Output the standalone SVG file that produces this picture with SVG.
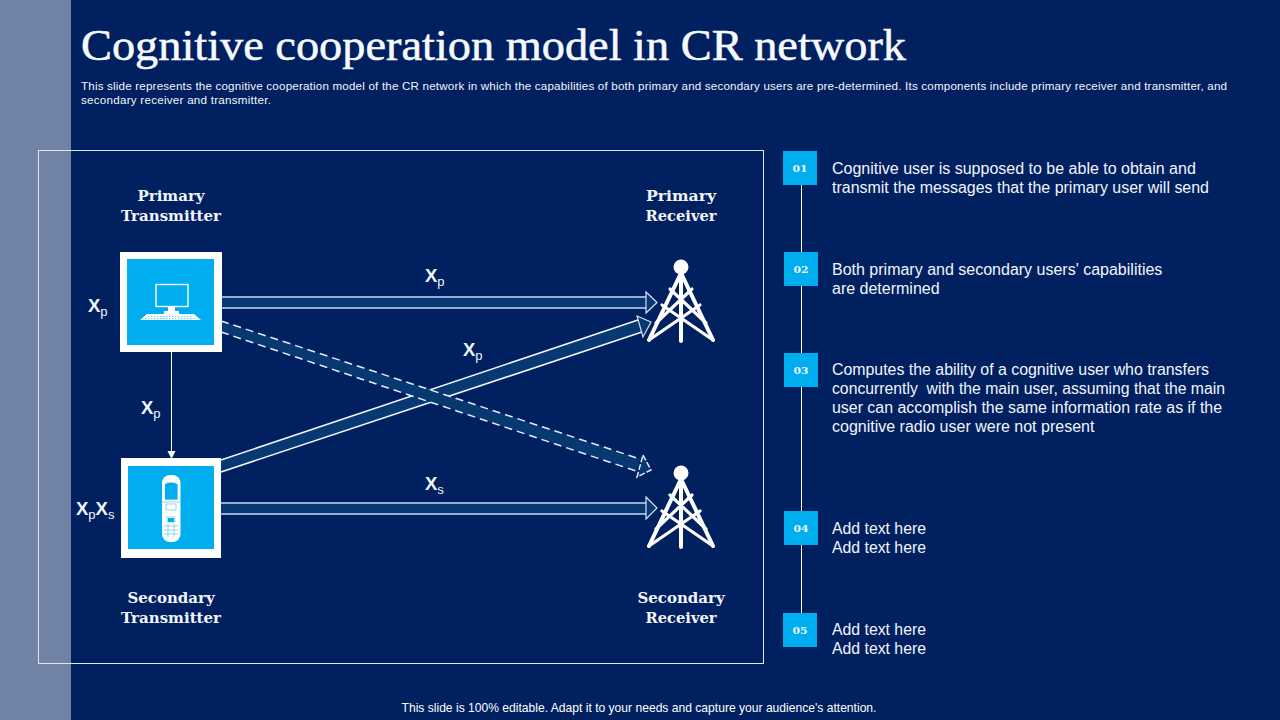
<svg xmlns="http://www.w3.org/2000/svg" width="1280" height="720" viewBox="0 0 1280 720">
<style>
.s{font-family:"Liberation Sans",Arial,sans-serif;fill:#fff}
.b{font-size:16px;fill:#f2f5fb}
.d{font-size:11.6px;fill:#f2f5fb}
.g{font-family:"DejaVu Serif","Liberation Serif",serif;font-weight:700;font-size:15px;fill:#f2f5fb;text-anchor:middle}
.n{font-family:"DejaVu Serif","Liberation Serif",serif;font-weight:700;font-size:9.5px;text-anchor:middle;fill:#f4f9ff}
.x{font-size:18.5px;font-weight:700;fill:#f2f5fb}
.x tspan{font-size:13px;font-weight:400}
.x tspan.big{font-size:18.5px;font-weight:700}
.c{fill:#00aeef}
.w{fill:#fff}
.t path{fill:none;stroke:#fff;stroke-linecap:round;stroke-linejoin:round}
.af{fill:#083872;stroke:none}
.al{fill:none;stroke:#93acd9;stroke-width:2}
.ah{fill:#083872;stroke:#d5e0f3;stroke-width:1.2}
.dl{fill:none;stroke:#e3ecf8;stroke-width:1.5;stroke-dasharray:8 5}
.dh{fill:#083872;stroke:#e3ecf8;stroke-width:1.5;stroke-dasharray:6 2}
</style>
<defs>
<g id="tower" class="t">
<circle cx="0" cy="0" r="7.5" fill="#fff"/>
<path d="M0 6L-32 73M0 6L32 73M0 6V74" stroke-width="4"/>
<path d="M-32 73L19 38M32 73L-19 38M-25 56L11 22M25 56L-11 22" stroke-width="3.200"/>
</g>
<marker id="tip" markerWidth="9" markerHeight="9" refX="7" refY="4" orient="auto" markerUnits="userSpaceOnUse"><path d="M0 0L8 4L0 8z" fill="#fff"/></marker>
</defs>
<rect width="1280" height="720" fill="#002060"/>
<rect width="71" height="720" fill="#7083a6"/>
<text x="81" y="60" textLength="825" lengthAdjust="spacingAndGlyphs" font-family="'Liberation Serif',serif" font-size="44" fill="#f6f9fd" stroke="#f6f9fd" stroke-width=".55">Cognitive cooperation model in CR network</text>
<text class="s d" x="81" y="90" textLength="1146" lengthAdjust="spacing">This slide represents the cognitive cooperation model of the CR network in which the capabilities of both primary and secondary users are pre-determined. Its components include primary receiver and transmitter, and</text>
<text class="s d" x="81" y="104" textLength="190" lengthAdjust="spacing">secondary receiver and transmitter.</text>
<rect x="38.500" y="150.500" width="725" height="513" fill="none" stroke="#dfe6f2" stroke-width="1"/>
<g id="connectors">
<path class="af" d="M221 297H646V308H221z"/><path class="al" d="M221 297H646M221 308H646"/><path class="ah" d="M646 292L657 302.500L646 313z"/>
<path class="af" d="M221 503H646V514H221z"/><path class="al" d="M221 503H646M221 514H646"/><path class="ah" d="M646 497L657 508L646 519z"/>
<path class="af" d="M221 460L638 320L642 332L221 472z"/><path d="M221 460L638 320M221 472L642 332" fill="none" stroke="#f2f6fc" stroke-width="1.600"/><path class="ah" d="M637 316L651 322L643 337z"/>
<path class="af" d="M221 321L640 459L636 471L221 332z"/><path class="dl" d="M221 321L640 459M221 332L636 471"/><path class="dh" d="M643 455L651 470L637 477z"/>
<path d="M171.500 352V458" stroke="#fff" stroke-width="1" marker-end="url(#tip)"/>
<path d="M801.500 185V613" stroke="#fff" stroke-width="1"/>
</g>
<g id="primary-transmitter">
<rect class="w" x="120" y="252" width="102" height="100"/><rect class="c" x="127" y="259" width="87" height="86"/>
<rect x="156" y="284.500" width="32" height="22" fill="none" stroke="#fff" stroke-width="1.400"/>
<path class="w" d="M168 307H175V311H179V314H164V311H168zM147 314H194L201 320H140z"/>
<path d="M148 316.500H193M145 318.500H196" stroke="#00aeef" stroke-width=".6" stroke-dasharray="1.500 1.500"/>
<text class="g" x="171" y="201">Primary</text><text class="g" x="171" y="221">Transmitter</text>
<text class="s x" x="88" y="312">X<tspan dy="4">p</tspan></text>
</g>
<g id="secondary-transmitter">
<rect class="w" x="121" y="458" width="100" height="100"/><rect class="c" x="128" y="466" width="86" height="83"/>
<rect class="w" x="162" y="475" width="18.500" height="67" rx="8"/>
<path d="M164.500 484Q171 480 178 484V500H164.500z" fill="#00aeef" stroke="#fff" stroke-width=".8"/>
<path d="M162 502H180M166 504H176V510H166zM167 517H175V522H167zM164 526H178M164 530H178M164 534H178M168 524V537M174 524V537" fill="none" stroke="#6fcdf2" stroke-width=".8"/>
<rect class="c" x="168" y="518" width="6" height="4"/>
<text class="g" x="171" y="603">Secondary</text><text class="g" x="171" y="623">Transmitter</text>
<text class="s x" x="76" y="515">X<tspan dy="4">p</tspan><tspan class="big" dy="-4">X</tspan><tspan dy="4">s</tspan></text>
</g>
<g id="primary-receiver"><use href="#tower" x="681" y="267"/><text class="g" x="681" y="201" textLength="70" lengthAdjust="spacingAndGlyphs">Primary</text><text class="g" x="681" y="221" textLength="71" lengthAdjust="spacingAndGlyphs">Receiver</text></g>
<g id="secondary-receiver"><use href="#tower" x="681" y="473"/><text class="g" x="681" y="603">Secondary</text><text class="g" x="681" y="623" textLength="71" lengthAdjust="spacingAndGlyphs">Receiver</text></g>
<g id="edge-labels">
<text class="s x" x="425" y="282">X<tspan dy="4">p</tspan></text>
<text class="s x" x="463" y="356">X<tspan dy="4">p</tspan></text>
<text class="s x" x="141" y="414">X<tspan dy="4">p</tspan></text>
<text class="s x" x="425" y="490">X<tspan dy="4">s</tspan></text>
</g>
<g id="step-1"><rect class="c" x="783" y="151" width="34" height="34"/><text class="n" x="800" y="172" textLength="15" lengthAdjust="spacingAndGlyphs">01</text><text class="s b" x="832" y="174">Cognitive user is supposed to be able to obtain and</text><text class="s b" x="832" y="193" textLength="377" lengthAdjust="spacingAndGlyphs">transmit the messages that the primary user will send</text></g>
<g id="step-2"><rect class="c" x="784" y="252" width="34" height="34"/><text class="n" x="801" y="273" textLength="15" lengthAdjust="spacingAndGlyphs">02</text><text class="s b" x="832" y="275">Both primary and secondary users' capabilities</text><text class="s b" x="832" y="294">are determined</text></g>
<g id="step-3"><rect class="c" x="784" y="353" width="34" height="34"/><text class="n" x="801" y="374" textLength="15" lengthAdjust="spacingAndGlyphs">03</text><text class="s b" x="832" y="375" textLength="377" lengthAdjust="spacingAndGlyphs">Computes the ability of a cognitive user who transfers</text><text class="s b" x="832" y="394" xml:space="preserve" textLength="393" lengthAdjust="spacingAndGlyphs">concurrently  with the main user, assuming that the main</text><text class="s b" x="832" y="413" textLength="390" lengthAdjust="spacingAndGlyphs">user can accomplish the same information rate as if the</text><text class="s b" x="832" y="432">cognitive radio user were not present</text></g>
<g id="step-4"><rect class="c" x="784" y="511" width="34" height="34"/><text class="n" x="801" y="532" textLength="15" lengthAdjust="spacingAndGlyphs">04</text><text class="s b" x="832" y="534" textLength="94" lengthAdjust="spacingAndGlyphs">Add text here</text><text class="s b" x="832" y="553" textLength="94" lengthAdjust="spacingAndGlyphs">Add text here</text></g>
<g id="step-5"><rect class="c" x="783" y="613" width="34" height="34"/><text class="n" x="800" y="634" textLength="15" lengthAdjust="spacingAndGlyphs">05</text><text class="s b" x="832" y="635" textLength="94" lengthAdjust="spacingAndGlyphs">Add text here</text><text class="s b" x="832" y="654" textLength="94" lengthAdjust="spacingAndGlyphs">Add text here</text></g>
<text class="s" x="639" y="712" font-size="12.100" text-anchor="middle" fill="#e8edf6">This slide is 100% editable. Adapt it to your needs and capture your audience's attention.</text>
</svg>
